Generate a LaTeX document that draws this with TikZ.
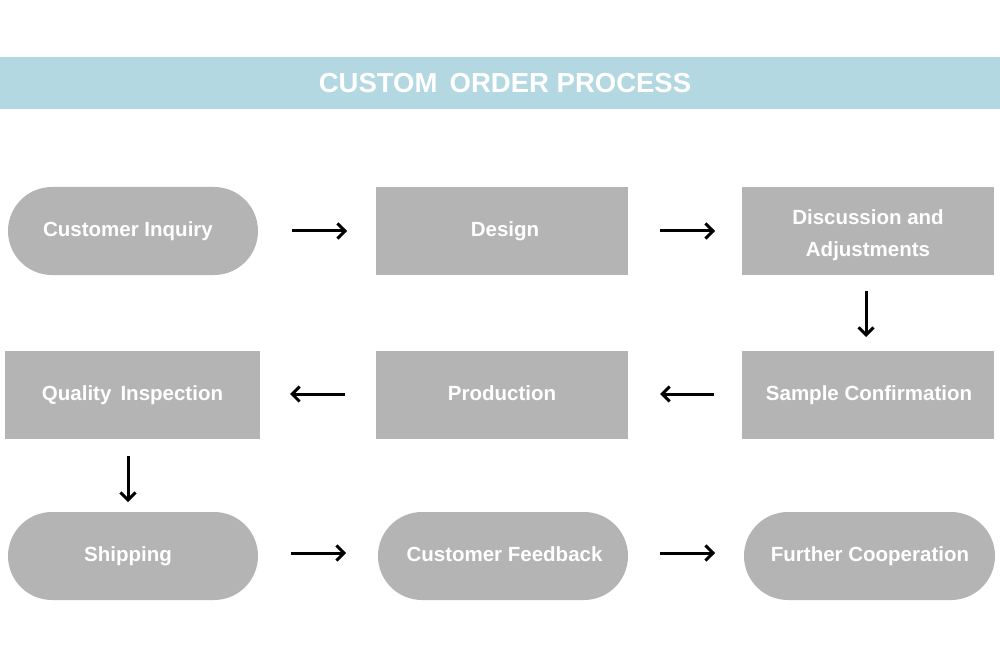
\documentclass[tikz,border=0pt]{standalone}
\usepackage{fontspec}
\setmainfont{Liberation Sans}
\usetikzlibrary{arrows.meta}
\definecolor{band}{RGB}{179,216,225}
\definecolor{boxgray}{RGB}{180,180,180}
\tikzset{
  stepbase/.style={fill=boxgray, draw=none, text=white, font=\fontsize{20.5}{25}\selectfont\bfseries, align=center, inner sep=0pt, text height=15pt, text depth=4pt},
  rectbox/.style={stepbase, minimum width=252pt, minimum height=88pt},
  pillbox/.style={stepbase, minimum width=250pt, minimum height=88pt, rounded corners=44pt},
  twoline/.style={fill=boxgray, draw=none, text=white, font=\fontsize{20.5}{25}\selectfont\bfseries, align=center, inner sep=0pt, minimum width=252pt, minimum height=88pt},
  flow/.style={line width=3pt, -{Straight Barb[length=7.5pt,width=15pt,line width=3pt]}}
}
\begin{document}
\begin{tikzpicture}[x=1pt,y=-1pt]
\useasboundingbox (0,0) rectangle (1000,668);
\fill[white] (0,0) rectangle (1000,668);
\fill[band] (0,57) rectangle (1000,109);
\node[text=white, font=\fontsize{27.5}{30}\selectfont\bfseries, inner sep=0pt, text height=19pt, text depth=0pt] (title) at (505,83.5) {CUSTOM\, ORDER PROCESS};

\node[pillbox] (inq) at (133,231) {Customer Inquiry\kern10pt};
\node[rectbox] (des) at (502,231) {\kern6pt Design};
\node[twoline] (dis) at (868,231) {\rule{0pt}{24pt}Discussion and\\[7pt]Adjustments};

\node[rectbox, minimum width=255pt] (qua) at (132.5,395) {Quality\, Inspection};
\node[rectbox] (pro) at (502,395) {Production};
\node[rectbox] (sam) at (868,395) {\kern2pt Sample Confirmation};

\node[pillbox] (shi) at (133,556) {Shipping\kern10pt};
\node[pillbox] (fee) at (503,556) {\kern3pt Customer Feedback};
\node[pillbox, minimum width=251pt] (fur) at (869.5,556) {\kern1pt Further Cooperation};

\coordinate (a1s) at (292,231); \coordinate (a1e) at (347,231);
\coordinate (a2s) at (660,231); \coordinate (a2e) at (715,231);
\coordinate (a3s) at (866,291); \coordinate (a3e) at (866,337);
\coordinate (a4s) at (714,394); \coordinate (a4e) at (660,394);
\coordinate (a5s) at (345,394); \coordinate (a5e) at (290,394);
\coordinate (a6s) at (128,456); \coordinate (a6e) at (128,502);
\coordinate (a7s) at (291,553); \coordinate (a7e) at (346,553);
\coordinate (a8s) at (660,553); \coordinate (a8e) at (715,553);
\foreach \s/\e in {a1s/a1e,a2s/a2e,a3s/a3e,a4s/a4e,a5s/a5e,a6s/a6e,a7s/a7e,a8s/a8e}
  \draw[flow] (\s) -- (\e);
\end{tikzpicture}
\end{document}
